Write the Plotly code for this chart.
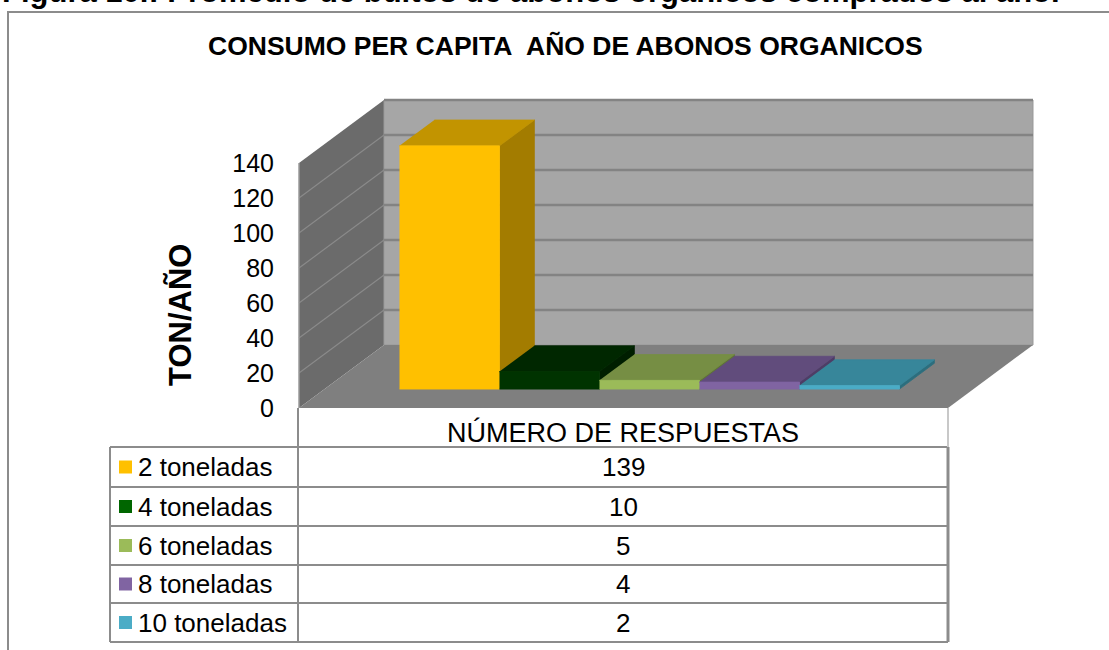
import plotly.graph_objects as go

# ---------------- data ----------------
categories = ["2 toneladas", "4 toneladas", "6 toneladas", "8 toneladas", "10 toneladas"]
values = [139, 10, 5, 4, 2]
y_ticks = [0, 20, 40, 60, 80, 100, 120, 140]
front_colors = ["#FFC000", "#003300", "#9BBB59", "#8064A2", "#4BACC6"]
top_colors = ["#C29400", "#002700", "#768E44", "#614C7C", "#37869A"]
side_colors = ["#A37C00", "#001E00", "#5F7436", "#4E3D66", "#2C6E7E"]
legend_colors = ["#FFC000", "#006600", "#9BBB59", "#8064A2", "#4BACC6"]

title_text = "CONSUMO PER CAPITA \u00a0AÑO DE ABONOS ORGANICOS"
caption_text = "Figura 10.: Promedio de bultos de abonos orgánicos comprados al año."
y_title = "TON/AÑO"
table_header = "NÚMERO DE RESPUESTAS"

# ---------------- geometry ----------------
W, H = 1109, 650
X0_PX, UNIT_X = 299, 100.0      # x=0 pixel, px per category unit
Y0_PX, UNIT_Y = 408, 1.75       # value 0 pixel, px per value unit
x_range = [-X0_PX / UNIT_X, (W - X0_PX) / UNIT_X]
y_range = [-(H - Y0_PX) / UNIT_Y, Y0_PX / UNIT_Y]

DX, DV = 0.85, 36.0             # full depth oblique offset (x units, value units)
FLOOR_W = 6.49
V_MAX = y_ticks[-1]
BAR_D0, BAR_D1 = 0.30, 0.71
BAR_START = 0.75

FONT = "Liberation Sans, Arial, sans-serif"


def px_x(px):
    return (px - X0_PX) / UNIT_X


def px_y(py):
    return (Y0_PX - py) / UNIT_Y


def poly_path(pts):
    return "M " + " L ".join(f"{x},{y}" for x, y in pts) + " Z"


shapes = []
# left wall
shapes.append(dict(type="path", xref="x", yref="y", layer="below",
                   path=poly_path([(0, 0), (DX, DV), (DX, V_MAX + DV), (0, V_MAX)]),
                   fillcolor="#6b6b6b", line=dict(width=0)))
# back wall
shapes.append(dict(type="path", xref="x", yref="y", layer="below",
                   path=poly_path([(DX, DV), (FLOOR_W + DX, DV), (FLOOR_W + DX, V_MAX + DV), (DX, V_MAX + DV)]),
                   fillcolor="#a6a6a6", line=dict(width=1, color="#999999")))
# grid lines on back wall and left wall
for v in y_ticks[1:]:
    shapes.append(dict(type="line", xref="x", yref="y", layer="below",
                       x0=DX, y0=v + DV, x1=FLOOR_W + DX, y1=v + DV,
                       line=dict(color="#838383", width=2.5)))
for v in y_ticks[1:-1]:
    shapes.append(dict(type="line", xref="x", yref="y", layer="below",
                       x0=0, y0=v, x1=DX, y1=v + DV,
                       line=dict(color="#8a8a8a", width=1.2)))
# floor
shapes.append(dict(type="path", xref="x", yref="y", layer="below",
                   path=poly_path([(0, 0), (FLOOR_W, 0), (FLOOR_W + DX, DV), (DX, DV)]),
                   fillcolor="#7f7f7f", line=dict(width=0)))

# ---------------- table ----------------
TBL_L, TBL_C, TBL_R = 110, 298, 948
HEAD_TOP = 408
row_lines = [447, 487, 526, 565, 603, 642]
LINE_C = "#8c8c8c"
for ry in row_lines:
    shapes.append(dict(type="line", xref="x", yref="y", x0=px_x(TBL_L), x1=px_x(TBL_R),
                       y0=px_y(ry), y1=px_y(ry), line=dict(color=LINE_C, width=2)))
shapes.append(dict(type="line", xref="x", yref="y", x0=px_x(TBL_L), x1=px_x(TBL_L),
                   y0=px_y(row_lines[0]), y1=px_y(row_lines[-1]), line=dict(color=LINE_C, width=2)))
shapes.append(dict(type="line", xref="x", yref="y", x0=0, x1=0,
                   y0=V_MAX, y1=0, line=dict(color="#9a9a9a", width=1.5)))
shapes.append(dict(type="line", xref="x", yref="y", x0=px_x(TBL_C), x1=px_x(TBL_C),
                   y0=px_y(HEAD_TOP), y1=px_y(row_lines[-1]), line=dict(color=LINE_C, width=2)))
shapes.append(dict(type="line", xref="x", yref="y", x0=px_x(TBL_R), x1=px_x(TBL_R),
                   y0=px_y(HEAD_TOP), y1=px_y(row_lines[0]), line=dict(color="#c8c8c8", width=2)))
shapes.append(dict(type="line", xref="x", yref="y", x0=px_x(TBL_R), x1=px_x(TBL_R),
                   y0=px_y(row_lines[0]), y1=px_y(row_lines[-1]), line=dict(color=LINE_C, width=3)))

annotations = []
annotations.append(dict(x=px_x((TBL_C + TBL_R) / 2), y=px_y(432), xref="x", yref="y",
                        text=table_header, showarrow=False, xanchor="center", yanchor="middle",
                        font=dict(family=FONT, size=27, color="black")))
for i, (cat, val, lc) in enumerate(zip(categories, values, legend_colors)):
    top, bot = row_lines[i], row_lines[i + 1]
    mid = (top + bot) / 2
    shapes.append(dict(type="rect", xref="x", yref="y", x0=px_x(119), x1=px_x(132),
                       y0=px_y(mid - 6.5), y1=px_y(mid + 6.5), fillcolor=lc, line=dict(width=0)))
    annotations.append(dict(x=px_x(136), y=px_y(mid), xref="x", yref="y", text=cat,
                            showarrow=False, xanchor="left", yanchor="middle",
                            font=dict(family=FONT, size=26, color="black")))
    annotations.append(dict(x=px_x((TBL_C + TBL_R) / 2), y=px_y(mid), xref="x", yref="y",
                            text=str(val), showarrow=False, xanchor="center", yanchor="middle",
                            font=dict(family=FONT, size=26, color="black")))

# outer frame
shapes.append(dict(type="rect", xref="paper", yref="paper", x0=8 / W, x1=1.02, y0=-0.02,
                   y1=1 - 12 / H, line=dict(color="#8c8c8c", width=2), fillcolor="rgba(0,0,0,0)"))

# titles
annotations.append(dict(x=565 / W, y=1 - 46 / H, xref="paper", yref="paper", text=f"<b>{title_text}</b>",
                        showarrow=False, xanchor="center", yanchor="middle",
                        font=dict(family=FONT, size=26.5, color="black")))
annotations.append(dict(x=180 / W, y=1 - 315 / H, xref="paper", yref="paper", text=f"<b>{y_title}</b>",
                        showarrow=False, xanchor="center", yanchor="middle", textangle=-90,
                        font=dict(family=FONT, size=31, color="black")))
annotations.append(dict(x=0, y=1 + 9 / H, xref="paper", yref="paper", text=f"<b>{caption_text}</b>",
                        showarrow=False, xanchor="left", yanchor="middle",
                        font=dict(family=FONT, size=31, color="black")))

# ---------------- bars (3D faces) ----------------
fig = go.Figure()
b = BAR_D0 * DV
ddx = (BAR_D1 - BAR_D0) * DX
ddv = (BAR_D1 - BAR_D0) * DV
for i, (val, fc, tc, sc) in enumerate(zip(values, front_colors, top_colors, side_colors)):
    xl = BAR_START + i + BAR_D0 * DX
    xr = xl + 1
    faces = [
        ([xr, xr + ddx, xr + ddx, xr], [b, b + ddv, b + val + ddv, b + val], sc),
        ([xl, xr, xr + ddx, xl + ddx], [b + val, b + val, b + val + ddv, b + val + ddv], tc),
        ([xl, xr, xr, xl], [b, b, b + val, b + val], fc),
    ]
    for fx, fy, col in faces:
        fig.add_trace(go.Scatter(x=fx, y=fy, fill="toself", fillcolor=col, mode="lines",
                                 line=dict(color=col, width=0.8), hoverinfo="skip",
                                 showlegend=False))

fig.update_layout(
    width=W, height=H,
    margin=dict(l=0, r=0, t=0, b=0),
    paper_bgcolor="white", plot_bgcolor="white",
    showlegend=False,
    xaxis=dict(range=x_range, visible=False, fixedrange=True),
    yaxis=dict(range=y_range, anchor="free", position=X0_PX / W, tickvals=y_ticks,
               ticktext=[str(t) for t in y_ticks], ticks="outside", ticklen=20,
               tickcolor="rgba(0,0,0,0)", showgrid=False, zeroline=False, showline=False,
               tickfont=dict(family=FONT, size=25, color="black"), fixedrange=True),
    shapes=shapes,
    annotations=annotations,
)

fig.write_html("out.html", config={"displayModeBar": False},
               post_script="document.body.style.margin='0';document.body.style.overflow='hidden';")
